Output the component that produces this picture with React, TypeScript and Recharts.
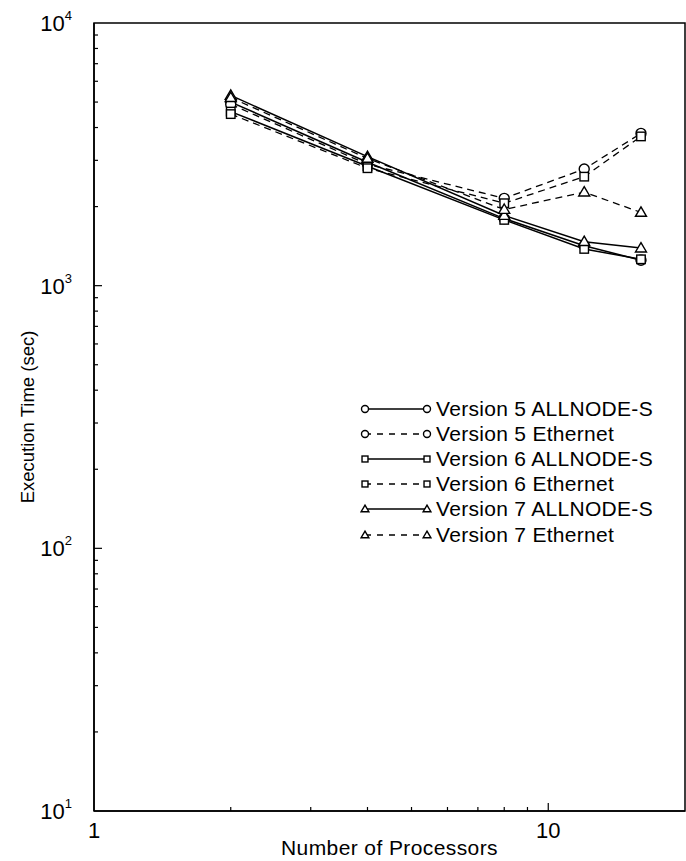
import { LineChart, Line, XAxis, YAxis, Legend, ReferenceArea } from "recharts";

const processors = [2, 4, 8, 12, 16];
const v5Allnode = [5000, 2950, 1800, 1420, 1250];
const v5Ethernet = [4900, 2900, 2150, 2780, 3800];
const v6Allnode = [4600, 2850, 1780, 1380, 1260];
const v6Ethernet = [4500, 2800, 2060, 2600, 3700];
const v7Allnode = [5300, 3100, 1850, 1470, 1390];
const v7Ethernet = [5200, 3050, 1950, 2270, 1900];

const xTicks = [1, 2, 3, 4, 5, 6, 7, 8, 9, 10, 20];
const xLabels = [1, 10];
const yTicks = [
  10, 20, 30, 40, 50, 60, 70, 80, 90, 100, 200, 300, 400, 500, 600, 700, 800,
  900, 1000, 2000, 3000, 4000, 5000, 6000, 7000, 8000, 9000, 10000,
];
const yLabels = [
  { value: 10, exp: "1" },
  { value: 100, exp: "2" },
  { value: 1000, exp: "3" },
  { value: 10000, exp: "4" },
];

type Kind = "circle" | "square" | "triangle";

const series: {
  key: string;
  name: string;
  values: number[];
  dashed: boolean;
  kind: Kind;
}[] = [
  { key: "v5a", name: "Version 5 ALLNODE-S", values: v5Allnode, dashed: false, kind: "circle" },
  { key: "v5e", name: "Version 5 Ethernet", values: v5Ethernet, dashed: true, kind: "circle" },
  { key: "v6a", name: "Version 6 ALLNODE-S", values: v6Allnode, dashed: false, kind: "square" },
  { key: "v6e", name: "Version 6 Ethernet", values: v6Ethernet, dashed: true, kind: "square" },
  { key: "v7a", name: "Version 7 ALLNODE-S", values: v7Allnode, dashed: false, kind: "triangle" },
  { key: "v7e", name: "Version 7 Ethernet", values: v7Ethernet, dashed: true, kind: "triangle" },
];

const data = processors.map((p, i) => {
  const row: Record<string, number> = { p };
  series.forEach((s) => {
    row[s.key] = s.values[i];
  });
  return row;
});

const FONT = "'Liberation Sans', Arial, Helvetica, sans-serif";

function Marker({ cx, cy, kind, r }: { cx: number; cy: number; kind: Kind; r: number }) {
  if (kind === "circle") {
    return <circle cx={cx} cy={cy} r={r} fill="#fff" stroke="#000" strokeWidth={1.4} />;
  }
  if (kind === "square") {
    const h = r * 0.85;
    return (
      <rect x={cx - h} y={cy - h} width={h * 2} height={h * 2} fill="#fff" stroke="#000" strokeWidth={1.4} />
    );
  }
  const t = r * 1.1;
  return (
    <polygon
      points={`${cx},${cy - t} ${cx + t},${cy + t * 0.7} ${cx - t},${cy + t * 0.7}`}
      fill="#fff"
      stroke="#000"
      strokeWidth={1.4}
    />
  );
}

function XTick({ x, y, payload, top }: any) {
  const v = payload.value;
  const major = v === 1 || v === 10;
  const len = major ? 8 : 4;
  const edge = v === 1 || v === 20;
  return (
    <g>
      {!edge && (
        <line x1={x} x2={x} y1={y} y2={top ? y + len : y - len} stroke="#000" strokeWidth={1.2} />
      )}
      {!top && xLabels.includes(v) && (
        <text x={x} y={y + 27} textAnchor="middle" fontSize={22} fontFamily={FONT} fill="#000">
          {v}
        </text>
      )}
    </g>
  );
}

function YTick({ x, y, payload, right }: any) {
  const v = payload.value;
  const lab = yLabels.find((l) => l.value === v);
  const len = lab ? 8 : 4;
  const edge = v === 10 || v === 10000;
  return (
    <g>
      {!edge && (
        <line x1={x} x2={right ? x - len : x + len} y1={y} y2={y} stroke="#000" strokeWidth={1.2} />
      )}
      {!right && lab && (
        <text x={x - 22} y={y + 8} textAnchor="end" fontSize={22} fontFamily={FONT} fill="#000">
          10
          <tspan dy={-11} fontSize={13}>
            {lab.exp}
          </tspan>
        </text>
      )}
    </g>
  );
}

function renderLegend() {
  return (
    <div style={{ fontFamily: FONT, fontSize: 21, letterSpacing: 0.3, color: "#000" }}>
      {series.map((s) => (
        <div key={s.key} style={{ display: "flex", alignItems: "center", height: 25.2 }}>
          <svg width={72} height={14}>
            <line
              x1={5}
              x2={67}
              y1={7}
              y2={7}
              stroke="#000"
              strokeWidth={1.4}
              strokeDasharray={s.dashed ? "6 6" : undefined}
            />
            <Marker cx={5} cy={7} kind={s.kind} r={3.5} />
            <Marker cx={67} cy={7} kind={s.kind} r={3.5} />
          </svg>
          <span style={{ marginLeft: 4, whiteSpace: "nowrap" }}>{s.name}</span>
        </div>
      ))}
    </div>
  );
}

export default function App() {
  return (
    <div style={{ position: "absolute", left: 0, top: 0, background: "#fff" }}>
      <LineChart width={686} height={861} data={data} margin={{ top: 23, right: 1, left: 0, bottom: 0 }}>
        <XAxis
          dataKey="p"
          type="number"
          scale="log"
          domain={[1, 20]}
          allowDataOverflow
          ticks={xTicks}
          interval={0}
          tickSize={0}
          tickMargin={0}
          height={50}
          axisLine={{ stroke: "#000", strokeWidth: 1.5 }}
          tickLine={false}
          tick={<XTick />}
          label={{
            content: ({ viewBox }: any) => (
              <text
                x={viewBox.x + viewBox.width / 2}
                y={viewBox.y + 44}
                textAnchor="middle"
                fontSize={21}
                letterSpacing={0.4}
                fontFamily={FONT}
                fill="#000"
              >
                Number of Processors
              </text>
            ),
          }}
        />
        <XAxis
          xAxisId="top"
          orientation="top"
          dataKey="p"
          type="number"
          scale="log"
          domain={[1, 20]}
          allowDataOverflow
          ticks={xTicks}
          interval={0}
          tickSize={0}
          tickMargin={0}
          height={0}
          axisLine={{ stroke: "#000", strokeWidth: 1.5 }}
          tickLine={false}
          tick={<XTick top />}
        />
        <YAxis
          type="number"
          scale="log"
          domain={[10, 10000]}
          allowDataOverflow
          ticks={yTicks}
          interval={0}
          tickSize={0}
          tickMargin={0}
          width={94}
          axisLine={{ stroke: "#000", strokeWidth: 1.5 }}
          tickLine={false}
          tick={<YTick />}
          label={{
            content: ({ viewBox }: any) => {
              const cx = viewBox.x + 34;
              const cy = viewBox.y + viewBox.height / 2;
              return (
                <text
                  x={cx}
                  y={cy}
                  transform={`rotate(-90, ${cx}, ${cy})`}
                  textAnchor="middle"
                  fontSize={18.5}
                  fontFamily={FONT}
                  fill="#000"
                >
                  Execution Time (sec)
                </text>
              );
            },
          }}
        />
        <YAxis
          yAxisId="right"
          orientation="right"
          type="number"
          scale="log"
          domain={[10, 10000]}
          allowDataOverflow
          ticks={yTicks}
          interval={0}
          tickSize={0}
          tickMargin={0}
          width={0}
          axisLine={{ stroke: "#000", strokeWidth: 1.5 }}
          tickLine={false}
          tick={<YTick right />}
        />
        <ReferenceArea
          x1={1}
          x2={20}
          y1={10}
          y2={10000}
          fill="none"
          stroke="#000"
          strokeWidth={1.5}
          ifOverflow="visible"
        />
        <Legend
          layout="vertical"
          align="center"
          verticalAlign="middle"
          content={renderLegend}
          wrapperStyle={{ left: 360, top: 396, width: 320, height: 152 }}
        />
        {series.map((s) => (
          <Line
            key={s.key}
            dataKey={s.key}
            name={s.name}
            stroke="#000"
            strokeWidth={s.dashed ? 1.3 : 1.5}
            strokeDasharray={s.dashed ? "7 5" : undefined}
            isAnimationActive={false}
            dot={(p: any) => <Marker key={`${s.key}-${p.index}`} cx={p.cx} cy={p.cy} kind={s.kind} r={5} />}
            activeDot={false}
          />
        ))}
      </LineChart>
    </div>
  );
}
